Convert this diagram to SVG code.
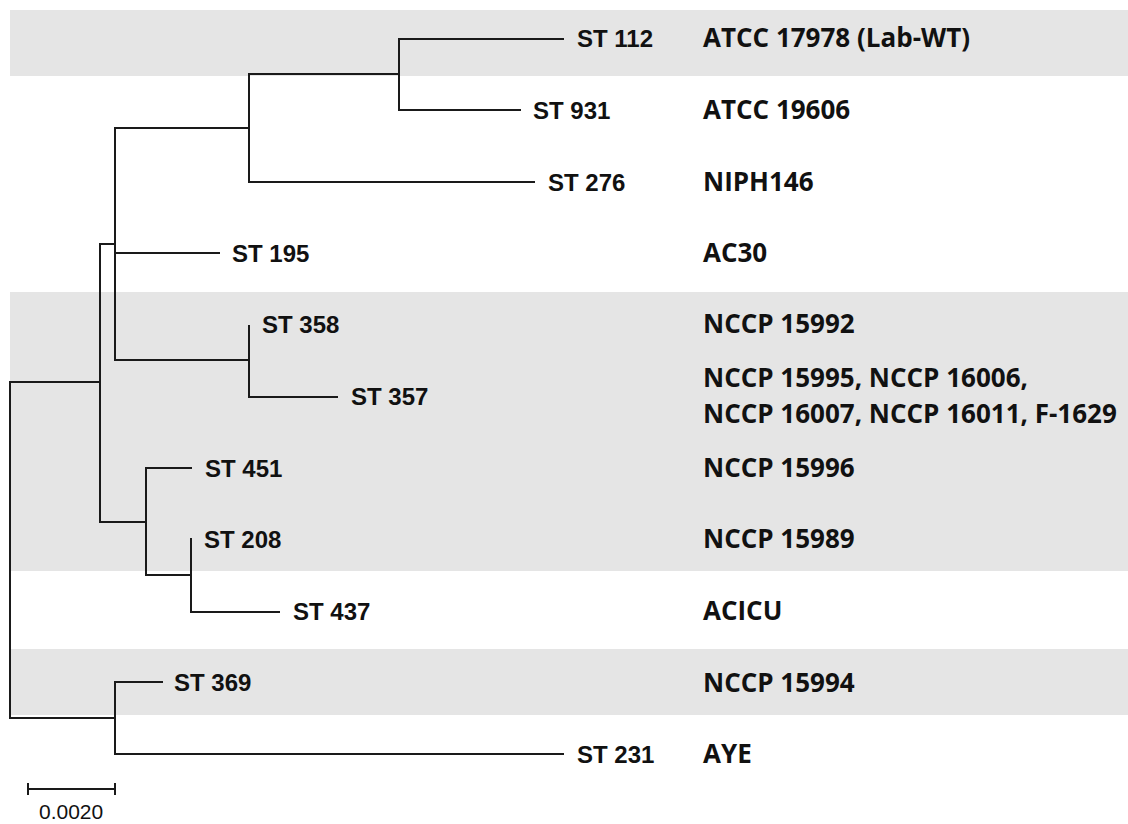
<svg xmlns="http://www.w3.org/2000/svg" width="1128" height="824" viewBox="0 0 1128 824">
<style>
.band{fill:#e5e5e5}
.br{fill:none;stroke:#1a1a1a;stroke-width:2;stroke-linecap:square}
.st{font-family:"Liberation Sans",Arial,sans-serif;font-weight:bold;font-size:24px;fill:#111}
.lab{font-family:"Open Sans","Noto Sans",sans-serif;font-weight:bold;font-size:26px;fill:#111}
.sc{font-family:"Liberation Sans",Arial,sans-serif;font-size:21px;fill:#111}
</style>
<rect width="1128" height="824" fill="#fff"/>
<g id="bands">
<rect class="band" x="10" y="10" width="1118" height="66"/>
<rect class="band" x="10" y="292" width="1118" height="279"/>
<rect class="band" x="10" y="649" width="1118" height="66"/>
</g>
<g id="connectors">
<path class="br" d="M10,382 V718 M10,382 H100 M10,718 H115"/>
<path class="br" d="M100,244 V522 M100,244 H115 M100,522 H146"/>
<path class="br" d="M115,128 V360 M115,128 H249 M115,253 H219 M115,360 H249"/>
<path class="br" d="M249,74 V182 M249,74 H399 M249,182 H534"/>
<path class="br" d="M399,39 V110 M399,39 H563 M399,110 H520"/>
<path class="br" d="M249,326 V397 M249,397 H337"/>
<path class="br" d="M146,468 V575 M146,468 H191 M146,575 H191"/>
<path class="br" d="M191,539 V612 M191,612 H279"/>
<path class="br" d="M115,682 V754 M115,682 H162 M115,754 H563"/>
</g>
<g id="st112"><text class="st" x="577" y="47">ST 112</text><text class="lab" x="703" y="47">ATCC 17978 (Lab-WT)</text></g>
<g id="st931"><text class="st" x="533" y="119">ST 931</text><text class="lab" x="703" y="119">ATCC 19606</text></g>
<g id="st276"><text class="st" x="548" y="191">ST 276</text><text class="lab" x="703" y="191">NIPH146</text></g>
<g id="st195"><text class="st" x="232" y="262">ST 195</text><text class="lab" x="703" y="262">AC30</text></g>
<g id="st358"><text class="st" x="262" y="333">ST 358</text><text class="lab" x="703" y="333">NCCP 15992</text></g>
<g id="st357"><text class="st" x="351" y="405">ST 357</text><text class="lab" x="703" y="387">NCCP 15995, NCCP 16006,</text><text class="lab" x="703" y="423">NCCP 16007, NCCP 16011, F-1629</text></g>
<g id="st451"><text class="st" x="205" y="477">ST 451</text><text class="lab" x="703" y="477">NCCP 15996</text></g>
<g id="st208"><text class="st" x="204" y="548">ST 208</text><text class="lab" x="703" y="548">NCCP 15989</text></g>
<g id="st437"><text class="st" x="293" y="620">ST 437</text><text class="lab" x="703" y="620">ACICU</text></g>
<g id="st369"><text class="st" x="174" y="691">ST 369</text><text class="lab" x="703" y="692">NCCP 15994</text></g>
<g id="st231"><text class="st" x="577" y="763">ST 231</text><text class="lab" x="703" y="763">AYE</text></g>
<g id="scalebar">
<path class="br" d="M28,789 H115 M28,784 V794 M115,784 V794"/>
<text class="sc" x="39" y="819">0.0020</text>
</g>
</svg>
